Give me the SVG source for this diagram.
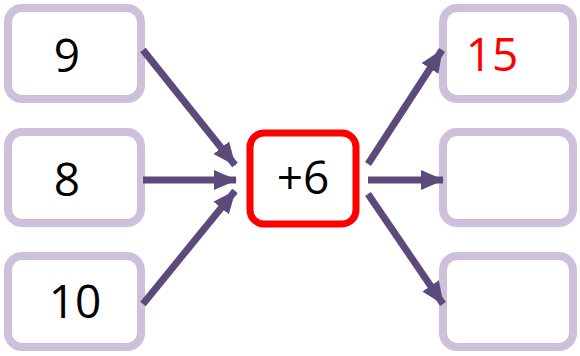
<svg xmlns="http://www.w3.org/2000/svg" width="580" height="356" viewBox="0 0 580 356">
<style>
.box{fill:#fff;stroke:#CCC0DA;stroke-width:8}
.op{fill:#fff;stroke:#FF0000;stroke-width:7}
.t{font-family:"Open Sans","Liberation Sans",sans-serif;font-size:46px;text-anchor:middle;fill:#000}
.red{fill:#FF0000}
.ar{stroke:#5C4A7D;stroke-width:7;fill:none;marker-end:url(#ah)}
</style>
<defs>
<marker id="ah" markerUnits="userSpaceOnUse" markerWidth="24" markerHeight="24" viewBox="0 0 24 24" refX="22" refY="12" orient="auto">
<path d="M0,2 L23,12 L0,22 Z" fill="#5C4A7D"/>
</marker>
</defs>
<g id="in1"><rect class="box" x="8" y="8" width="133" height="91" rx="14"/><text class="t" x="67" y="72">9</text></g>
<g id="in2"><rect class="box" x="8" y="132" width="133" height="91" rx="14"/><text class="t" x="67" y="196">8</text></g>
<g id="in3"><rect class="box" x="8" y="256" width="133" height="91" rx="14"/><text class="t" x="75" y="318">10</text></g>
<g id="op"><rect class="op" x="250" y="133" width="106" height="91" rx="14"/><text class="t" x="303" y="194">+6</text></g>
<g id="out1"><rect class="box" x="443" y="8" width="130" height="91" rx="14"/><text class="t red" x="492" y="71">15</text></g>
<g id="out2"><rect class="box" x="443" y="132" width="130" height="91" rx="14"/></g>
<g id="out3"><rect class="box" x="443" y="256" width="130" height="91" rx="14"/></g>
<g id="connectors">
<line class="ar" x1="143" y1="50" x2="235" y2="165"/>
<line class="ar" x1="143" y1="180" x2="236" y2="180"/>
<line class="ar" x1="143" y1="304" x2="235" y2="191"/>
<line class="ar" x1="368" y1="164" x2="442" y2="50"/>
<line class="ar" x1="368" y1="180" x2="443" y2="180"/>
<line class="ar" x1="368" y1="194" x2="443" y2="304"/>
</g>
</svg>
